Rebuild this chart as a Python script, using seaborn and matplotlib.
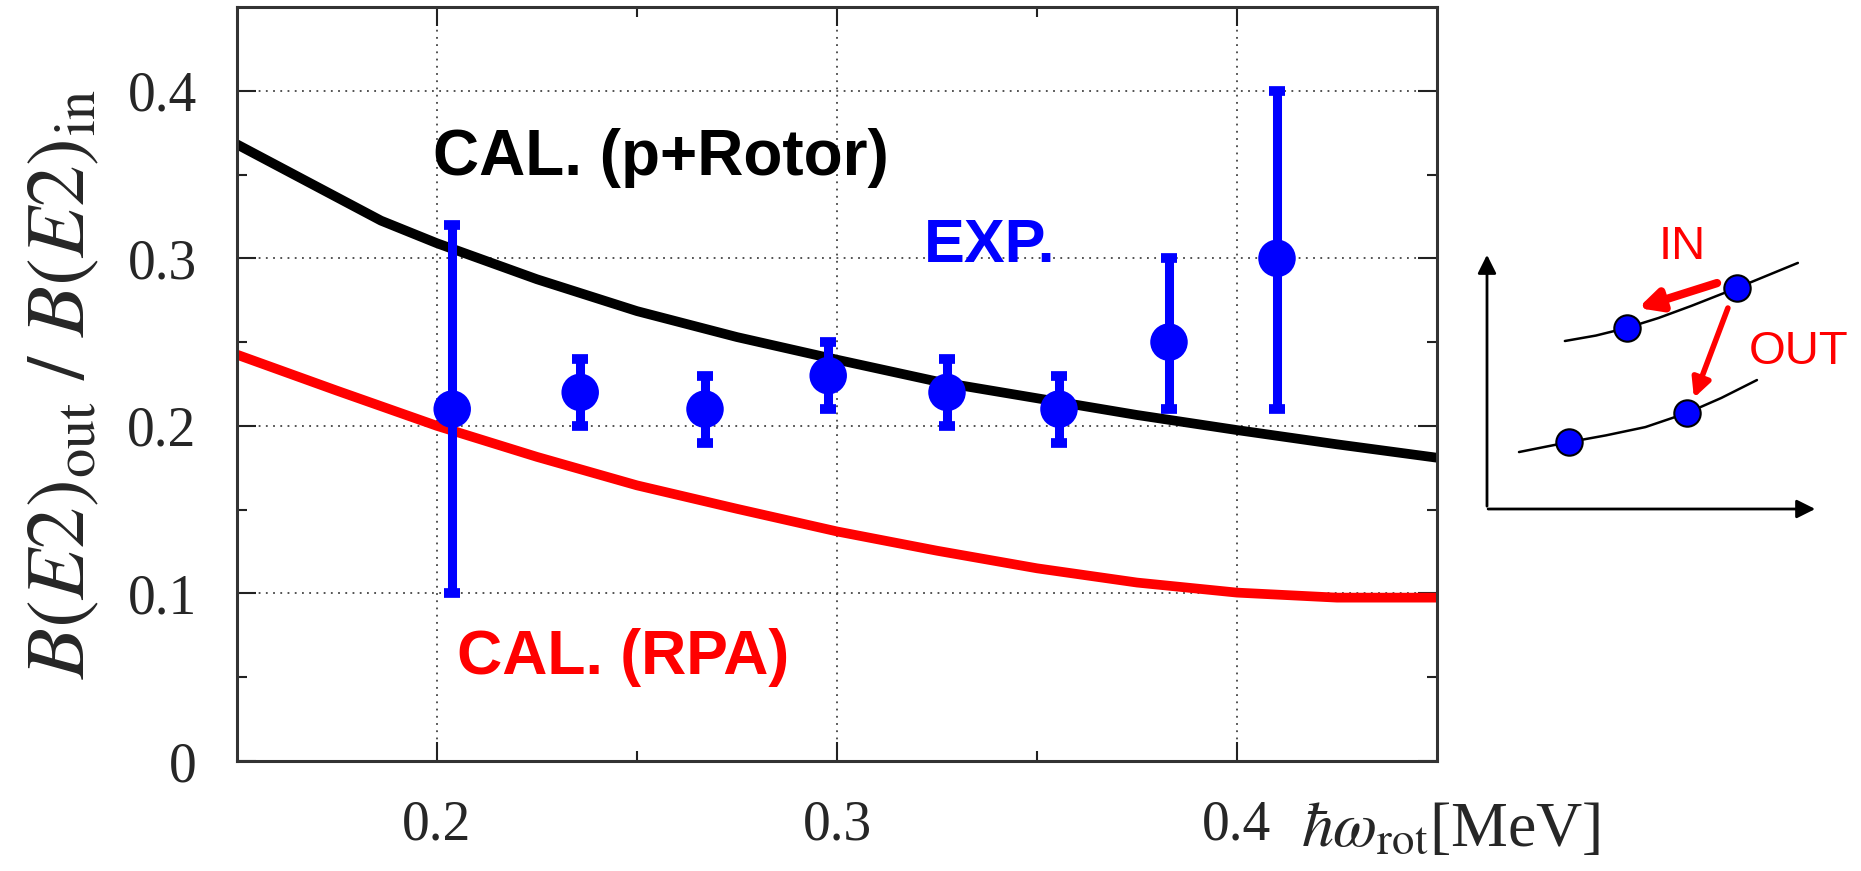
import matplotlib
matplotlib.use("Agg")
import matplotlib.pyplot as plt
import seaborn as sns

# calculated curves
rotor_x = [0.15, 0.186, 0.2, 0.225, 0.25, 0.275, 0.3, 0.325, 0.35, 0.375, 0.4, 0.425, 0.45]
rotor_y = [0.368, 0.3225, 0.309, 0.2875, 0.2685, 0.253, 0.2395, 0.2265, 0.2165, 0.2065, 0.1975, 0.189, 0.181]

rpa_x = [0.15, 0.175, 0.2, 0.225, 0.25, 0.275, 0.3, 0.325, 0.35, 0.375, 0.4, 0.425, 0.45]
rpa_y = [0.2425, 0.221, 0.2, 0.1815, 0.1645, 0.1505, 0.137, 0.1255, 0.115, 0.1065, 0.1005, 0.0975, 0.0975]

# experiment
exp_x = [0.2038, 0.2358, 0.267, 0.2978, 0.3275, 0.3555, 0.383, 0.41]
exp_y = [0.21, 0.22, 0.21, 0.23, 0.22, 0.21, 0.25, 0.30]
exp_lo = [0.10, 0.20, 0.19, 0.21, 0.20, 0.19, 0.21, 0.21]
exp_hi = [0.32, 0.24, 0.23, 0.25, 0.24, 0.23, 0.30, 0.40]

x_ticks = [0.2, 0.3, 0.4]
y_ticks = [0, 0.1, 0.2, 0.3, 0.4]

# schematic inset (arbitrary units)
upper_u = [2.36, 3.3, 4.24, 5.2, 6.2, 7.58, 9.42]
upper_v = [5.25, 5.42, 5.66, 5.97, 6.35, 6.91, 7.69]
lower_u = [0.97, 2.48, 3.6, 4.8, 6.06, 7.1, 8.18]
lower_v = [1.78, 2.09, 2.3, 2.56, 3.0, 3.47, 4.03]
state_u = [4.24, 7.58, 2.48, 6.06]
state_v = [5.66, 6.91, 2.09, 3.0]

sns.set_style("ticks")
plt.rcParams["font.family"] = ["Liberation Serif", "DejaVu Serif"]
plt.rcParams["mathtext.fontset"] = "stix"

fig = plt.figure(figsize=(18.61, 8.71), dpi=100)
ax = fig.add_axes([237 / 1861, 110 / 871, 1200 / 1861, 754 / 871])

sns.lineplot(x=rotor_x, y=rotor_y, ax=ax, color="black", lw=7, sort=False)
sns.lineplot(x=rpa_x, y=rpa_y, ax=ax, color="red", lw=7, sort=False)

err = [[y - lo for y, lo in zip(exp_y, exp_lo)], [hi - y for y, hi in zip(exp_y, exp_hi)]]
ax.errorbar(exp_x, exp_y, yerr=err, fmt="none", ecolor="#0000ff", elinewidth=6.5,
            capsize=6, capthick=7, zorder=3)
sns.scatterplot(x=exp_x, y=exp_y, ax=ax, color="#0000ff", s=27 ** 2, edgecolor="none",
                zorder=4)

ax.set_xlim(0.15, 0.45)
ax.set_ylim(0, 0.45)
ax.set_xticks(x_ticks)
ax.set_xticklabels([str(t) for t in x_ticks])
ax.set_yticks(y_ticks)
ax.set_yticklabels(["0" if t == 0 else str(t) for t in y_ticks])
ax.set_xticks([0.25, 0.35], minor=True)
ax.set_yticks([0.05, 0.15, 0.25, 0.35], minor=True)
ax.tick_params(which="both", direction="in", top=True, right=True, width=1.5, color="#222222")
ax.tick_params(which="major", length=14, labelsize=40)
ax.tick_params(which="minor", length=7)
ax.tick_params(axis="x", pad=28)
ax.tick_params(axis="y", pad=29)
ax.grid(True, which="major", color="#444444", linestyle=(0, (1, 3)), linewidth=1.3)
for sp in ax.spines.values():
    sp.set_linewidth(2.2)
    sp.set_color("#333333")

ax.set_ylabel(r"$B(E2)_{\mathrm{out}}\ /\ B(E2)_{\mathrm{in}}$", fontsize=60)
ax.yaxis.set_label_coords(-0.112, 0.5)
ax.text(0.887, -0.113, r"$\hbar\omega_{\mathrm{rot}}$[MeV]", transform=ax.transAxes,
        fontsize=46, ha="left", va="baseline", clip_on=False)

ax.text(0.199, 0.350, "CAL. (p+Rotor)", fontsize=46, fontweight="bold",
        family="Liberation Sans", color="black", va="baseline")
ax.text(0.3218, 0.298, "EXP.", fontsize=44, fontweight="bold",
        family="Liberation Sans", color="#0000ff", va="baseline")
ax.text(0.205, 0.052, "CAL. (RPA)", fontsize=45, fontweight="bold",
        family="Liberation Sans", color="red", va="baseline")

# inset schematic
ax_in = fig.add_axes([1454 / 1861, (871 - 534.6) / 871, 405.9 / 1861, 313.6 / 871])
ax_in.set_xlim(-1, 11.3)
ax_in.set_ylim(-0.8, 9.0)
ax_in.axis("off")
ax_in.annotate("", xy=(0, 8.03), xytext=(0, 0),
               arrowprops=dict(arrowstyle="-|>", color="black", lw=2, mutation_scale=28))
ax_in.annotate("", xy=(10.03, 0), xytext=(-0.05, 0),
               arrowprops=dict(arrowstyle="-|>", color="black", lw=2, mutation_scale=28))
sns.lineplot(x=upper_u, y=upper_v, ax=ax_in, color="black", lw=1.8, sort=False)
sns.lineplot(x=lower_u, y=lower_v, ax=ax_in, color="black", lw=1.8, sort=False)
sns.scatterplot(x=state_u, y=state_v, ax=ax_in, color="#0000ff", s=19 ** 2,
                edgecolor="black", linewidth=1.5, zorder=4)
ax_in.annotate("", xy=(4.58, 6.28), xytext=(6.97, 7.06),
               arrowprops=dict(arrowstyle="-|>", color="red", lw=6, mutation_scale=32,
                               shrinkA=0, shrinkB=0))
ax_in.annotate("", xy=(6.27, 3.47), xytext=(7.30, 6.28),
               arrowprops=dict(arrowstyle="-|>", color="red", lw=4, mutation_scale=28,
                               shrinkA=0, shrinkB=0))
ax_in.text(5.91, 8.19, "IN", fontsize=34, family="Liberation Sans", color="red",
           ha="center", va="center")
ax_in.text(9.45, 4.91, "OUT", fontsize=34, family="Liberation Sans", color="red",
           ha="center", va="center")

fig.savefig("out.png", dpi=100, facecolor="white")
